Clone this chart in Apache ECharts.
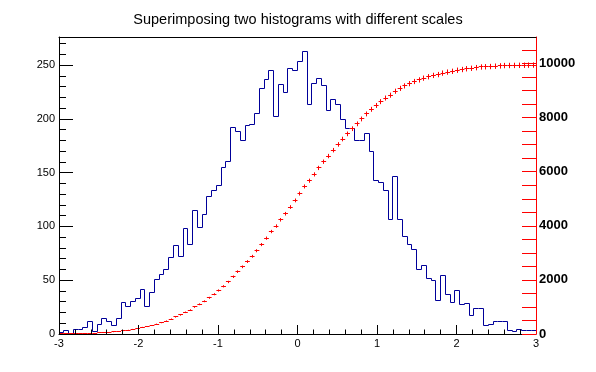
<!DOCTYPE html>
<html><head><meta charset="utf-8">
<script src="https://cdn.jsdelivr.net/npm/echarts@6/dist/echarts.min.js"></script>
<style>html,body{margin:0;padding:0;background:#fff}#c{width:596px;height:372px}</style>
</head><body><div id="c"></div>
<script>
const chartTitle = 'Superimposing two histograms with different scales';
const xMin = -3, xMax = 3, nBins = 100;
const counts = [1,3,0,4,4,6,12,2,9,14,
 12,8,14,29,26,30,33,41,26,39,
 51,55,60,71,82,72,98,83,115,99,
 111,128,133,138,155,160,192,188,180,194,
 195,205,228,237,245,202,232,225,247,245,
 253,263,213,233,238,231,208,218,213,199,
 191,191,180,180,186,170,143,141,133,106,
 146,106,91,83,79,60,64,52,50,31,
 54,37,29,40,27,28,17,24,24,8,
 9,12,12,12,3,2,4,3,3,3];
const cumulative = [1,4,4,8,12,18,30,32,41,55,
 67,75,89,118,144,174,207,248,274,313,
 364,419,479,550,632,704,802,885,1000,1099,
 1210,1338,1471,1609,1764,1924,2116,2304,2484,2678,
 2873,3078,3306,3543,3788,3990,4222,4447,4694,4939,
 5192,5455,5668,5901,6139,6370,6578,6796,7009,7208,
 7399,7590,7770,7950,8136,8306,8449,8590,8723,8829,
 8975,9081,9172,9255,9334,9394,9458,9510,9560,9591,
 9645,9682,9711,9751,9778,9806,9823,9847,9871,9879,
 9888,9900,9912,9924,9927,9929,9933,9936,9939,9942];
const xTickLabels = [-3,-2,-1,0,1,2,3];
const leftTickLabels = [0,50,100,150,200,250];
const rightTickLabels = [0,2000,4000,6000,8000,10000];
const leftMax = 276.15;
const rightMax = 10980;

const bw = (xMax - xMin) / nBins;
const histData = counts.map((c, i) => [xMin + i * bw, c, i < counts.length - 1 ? counts[i + 1] : NaN]);
const cumData = cumulative.map((c, i) => [xMin + (i + 0.5) * bw, c]);

const FONT = '"Liberation Sans", Arial, sans-serif';
const chart = echarts.init(document.getElementById('c'), null, {renderer: 'canvas'});
const crisp = v => Math.round(v - 0.5) + 0.5;

chart.setOption({
  animation: false,
  backgroundColor: '#fff',
  title: {text: chartTitle, left: 'center', top: 7,
    textStyle: {fontFamily: FONT, fontSize: 14.5, fontWeight: 'normal', color: '#000'}},
  grid: {left: 59, right: 60, top: 37, bottom: 38, show: false},
  xAxis: [
    {type: 'value', min: xMin, max: xMax, interval: 1, position: 'bottom', z: 3,
     axisLine: {onZero: false, lineStyle: {color: '#000', width: 1}},
     axisTick: {inside: true, length: 9, lineStyle: {color: '#000'}},
     minorTick: {show: true, splitNumber: 5, length: 4.5, lineStyle: {color: '#000'}},
     axisLabel: {color: '#000', fontFamily: FONT, fontSize: 11, margin: 4,
       formatter: v => xTickLabels.includes(Math.round(v*1000)/1000) ? String(Math.round(v)) : ''},
     splitLine: {show: false}},
    {type: 'value', min: xMin, max: xMax, position: 'top', z: 6,
     axisLine: {show: true, onZero: false, lineStyle: {color: '#000', width: 1}},
     axisTick: {show: false}, axisLabel: {show: false}, splitLine: {show: false}}
  ],
  yAxis: [
    {type: 'value', min: 0, max: leftMax, interval: 10, position: 'left', z: 3,
     axisLine: {show: true, onZero: false, lineStyle: {color: '#000', width: 1}},
     axisTick: {show: true, inside: true, length: 7, lineStyle: {color: '#000'}},
     axisLabel: {show: false}, splitLine: {show: false}},
    {type: 'value', min: 0, max: leftMax, interval: 50, position: 'left', z: 3,
     axisLine: {show: false, onZero: false},
     axisTick: {show: true, inside: true, length: 14, lineStyle: {color: '#000'}},
     axisLabel: {color: '#000', fontFamily: FONT, fontSize: 11, margin: 4,
       formatter: v => leftTickLabels.includes(v) ? String(v) : ''},
     splitLine: {show: false}},
    {type: 'value', min: 0, max: rightMax, interval: 500, position: 'right', z: 4,
     axisLine: {show: true, onZero: false, lineStyle: {color: '#ff0000', width: 1}},
     axisTick: {show: true, inside: true, length: 14, lineStyle: {color: '#ff0000'}},
     axisLabel: {color: '#000', fontFamily: FONT, fontSize: 13, fontWeight: 'bold', margin: 3,
       formatter: v => rightTickLabels.includes(v) ? String(v) : ''},
     splitLine: {show: false}}
  ],
  series: [
    {type: 'custom', name: 'h1', xAxisIndex: 0, yAxisIndex: 0, data: histData, z: 2,
     encode: {x: 0, y: 1},
     renderItem: (params, api) => {
       const x0 = api.value(0), v = api.value(1), vn = api.value(2);
       const pL = api.coord([x0, v]);
       const pR = api.coord([x0 + bw, v]);
       const xl = crisp(pL[0]), xr = crisp(pR[0]), y = crisp(pL[1]);
       const pts = [[xl, y], [xr, y]];
       if (!isNaN(vn)) pts.push([xr, crisp(api.coord([x0 + bw, vn])[1])]);
       return {type: 'polyline', shape: {points: pts},
         style: {stroke: '#000099', lineWidth: 1, fill: null}};
     }},
    {type: 'custom', name: 'hint1', xAxisIndex: 0, yAxisIndex: 2, data: cumData, z: 3,
     encode: {x: 0, y: 1},
     renderItem: (params, api) => {
       const xc = api.value(0), v = api.value(1);
       const e = Math.sqrt(v);
       const pL = api.coord([xc - bw / 2, v]);
       const pR = api.coord([xc + bw / 2, v]);
       const pT = api.coord([xc, v + e]);
       const pB = api.coord([xc, v - e]);
       const y = crisp(pL[1]), x = crisp(pT[0]);
       return {type: 'group', children: [
         {type: 'line', shape: {x1: pL[0], y1: y, x2: pR[0], y2: y}, style: {stroke: '#ff0000', lineWidth: 1}},
         {type: 'line', shape: {x1: x, y1: pT[1], x2: x, y2: pB[1]}, style: {stroke: '#ff0000', lineWidth: 1}}
       ]};
     }}
  ]
});
</script></body></html>
